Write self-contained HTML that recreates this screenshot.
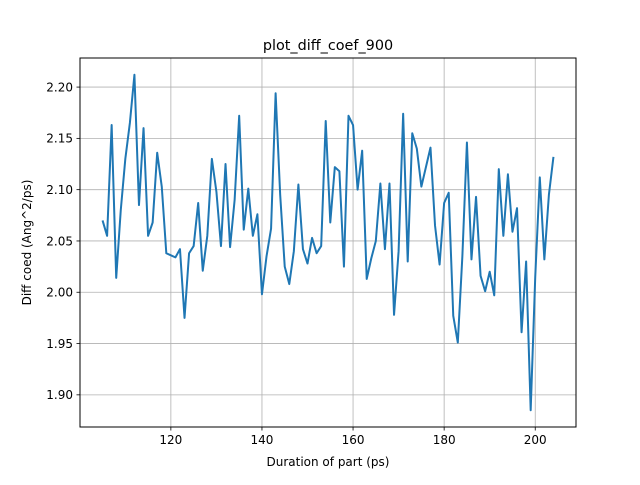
<!DOCTYPE html>
<html><head><meta charset="utf-8"><style>
html,body{margin:0;padding:0;background:#fff;}
svg text{font-family:"DejaVu Sans","Liberation Sans",sans-serif;fill:#000;}
</style></head><body>
<svg id="chart" width="640" height="480" xmlns="http://www.w3.org/2000/svg">
<rect width="640" height="480" fill="#fff"/>
<g id="grid"></g>
<g id="series"></g>
<rect x="80" y="58" width="496" height="369" fill="none" stroke="#000" stroke-width="1"/>
<g id="xticks"></g>
<g id="yticks"></g>
<text x="328" y="50" font-size="14.4" text-anchor="middle">plot_diff_coef_900</text>
<text x="328" y="466" font-size="12" text-anchor="middle">Duration of part (ps)</text>
<text transform="translate(31,242.5) rotate(-90)" font-size="12" text-anchor="middle">Diff coed (Ang^2/ps)</text>
</svg>
<script>
const xStart = 105;
const values = [2.070,2.055,2.163,2.014,2.080,2.130,2.165,2.212,2.085,2.160,2.055,2.068,2.136,2.103,2.038,2.036,2.034,2.042,1.975,2.038,2.045,2.087,2.021,2.055,2.130,2.098,2.045,2.125,2.044,2.090,2.172,2.061,2.101,2.055,2.076,1.998,2.035,2.062,2.194,2.095,2.025,2.008,2.040,2.105,2.042,2.028,2.053,2.038,2.045,2.167,2.068,2.122,2.118,2.025,2.172,2.163,2.100,2.138,2.013,2.033,2.050,2.106,2.042,2.106,1.978,2.040,2.174,2.030,2.155,2.140,2.103,2.122,2.141,2.065,2.027,2.087,2.097,1.977,1.951,2.035,2.146,2.032,2.093,2.016,2.001,2.020,1.997,2.120,2.055,2.115,2.059,2.082,1.961,2.030,1.885,2.015,2.112,2.032,2.095,2.132];
const xTicks = [120,140,160,180,200];
const yTicks = [1.90,1.95,2.00,2.05,2.10,2.15,2.20];

const NS="http://www.w3.org/2000/svg";
const L=80,R=576,T=58,B=427;
const xs = values.map((v,i)=>xStart+i);
const xmin=Math.min(...xs), xmax=Math.max(...xs), xm=(xmax-xmin)*0.05;
const ymin=Math.min(...values), ymax=Math.max(...values), ym=(ymax-ymin)*0.05;
const X=v=>L+(v-(xmin-xm))/((xmax+xm)-(xmin-xm))*(R-L);
const Y=v=>B-(v-(ymin-ym))/((ymax+ym)-(ymin-ym))*(B-T);
function mk(tag,attrs,parent){const e=document.createElementNS(NS,tag);for(const k in attrs)e.setAttribute(k,attrs[k]);parent.appendChild(e);return e;}
const grid=document.getElementById('grid'),xt=document.getElementById('xticks'),yt=document.getElementById('yticks');
xTicks.forEach(t=>{const x=X(t);
 const g=mk('line',{x1:x,x2:x,y1:T,y2:B,stroke:'#b0b0b0','stroke-width':0.8},grid);
 
 
 const tk=mk('line',{x1:x,x2:x,y1:B,y2:B+3.5,stroke:'#000','stroke-width':0.8},xt);
 
 
 const tx=mk('text',{x:x,y:B+17,'font-size':12,'text-anchor':'middle'},xt);tx.textContent=t;
 
 
});
yTicks.forEach(t=>{const y=Y(t);
 const g=mk('line',{x1:L,x2:R,y1:y,y2:y,stroke:'#b0b0b0','stroke-width':0.8},grid);
 
 
 const tk=mk('line',{x1:L-3.5,x2:L,y1:y,y2:y,stroke:'#000','stroke-width':0.8},yt);
 
 
 const tx=mk('text',{x:L-7,y:y+4.3,'font-size':12,'text-anchor':'end'},yt);tx.textContent=t.toFixed(2);
 
 
});
const p=mk('polyline',{points:values.map((v,i)=>X(xs[i]).toFixed(2)+','+Y(v).toFixed(2)).join(' '),fill:'none',stroke:'#1f77b4','stroke-width':2,'stroke-linejoin':'round'},document.getElementById('series'));


</script>
</body></html>
